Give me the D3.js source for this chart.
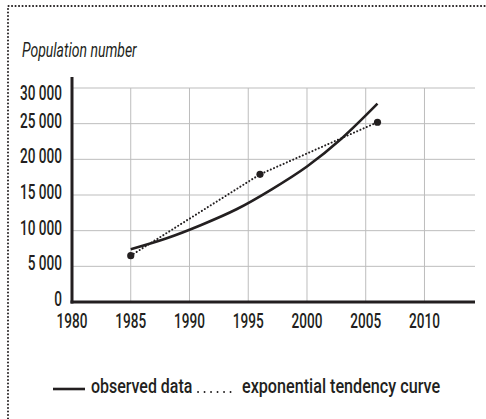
<!DOCTYPE html>
<html>
<head>
<meta charset="utf-8">
<script src="https://cdn.jsdelivr.net/npm/d3@7"></script>
<style>
	body { margin: 0; background: #fff; }
	svg { display: block; }
	text { font-family: Roboto, "Liberation Sans", sans-serif; fill: #231f20; }
</style>
</head>
<body>
<script>
// observed points (dotted line)
const obsYears = [1985, 1996, 2006];
const obsValues = [6500, 17900, 25200];

// smooth tendency curve (solid line)
const curveYears = [1985, 1988, 1991, 1994, 1997, 2000, 2003, 2006];
const curveValues = [7400, 8900, 10800, 13000, 15800, 19000, 23000, 27800];

const xTicks = [1980, 1985, 1990, 1995, 2000, 2005, 2010];
const yTicks = [0, 5000, 10000, 15000, 20000, 25000, 30000];
const yTickLabels = ["0", "5 000", "10 000", "15 000", "20 000", "25 000", "30 000"];

const legendLabels = ["observed data", "exponential tendency curve"];

const width = 486, height = 419;
const mLeft = 72, mRight = 475, mTop = 88, mBottom = 302;

let svg = d3.select("body").append("svg")
	.attr("width", width)
	.attr("height", height);

// dotted frame
svg.append("path")
	.attr("d", "M8," + (height + 10) + "V6H" + (width + 10))
	.attr("fill", "none")
	.attr("stroke", "#231f20")
	.attr("stroke-width", 2)
	.attr("stroke-linecap", "round")
	.attr("stroke-dasharray", "0.1 3.4");

let x = d3.scaleLinear().domain([1980, 2014.3]).range([mLeft, mRight]);
let y = d3.scaleLinear().domain([0, 30000]).range([mBottom, mTop]);

// condensed text: squeeze a normal face horizontally
function label(g, tx, ty, str, anchor, size, opts) {
	opts = opts || {};
	g.append("text")
		.attr("transform", "translate(" + tx + "," + ty + ") scale(" + (opts.sx || 0.68) + ",1)")
		.attr("text-anchor", anchor)
		.attr("font-size", size)
		.attr("font-weight", opts.weight || 500)
		.attr("font-style", opts.italic ? "italic" : "normal")
		.text(str);
}

// grid
svg.append("g").selectAll("line")
	.data(yTicks.slice(1))
	.enter().append("line")
	.attr("x1", mLeft).attr("x2", mRight)
	.attr("y1", d => y(d)).attr("y2", d => y(d))
	.attr("stroke", "#bdbdbd").attr("stroke-width", 1);

svg.append("g").selectAll("line")
	.data(xTicks.slice(1))
	.enter().append("line")
	.attr("x1", d => x(d)).attr("x2", d => x(d))
	.attr("y1", mTop).attr("y2", mBottom)
	.attr("stroke", "#bdbdbd").attr("stroke-width", 1);

// axes lines
svg.append("line")
	.attr("x1", mLeft).attr("x2", mLeft)
	.attr("y1", 77).attr("y2", mBottom + 1.5)
	.attr("stroke", "#231f20").attr("stroke-width", 3);
svg.append("line")
	.attr("x1", mLeft - 1.5).attr("x2", mRight)
	.attr("y1", mBottom).attr("y2", mBottom)
	.attr("stroke", "#231f20").attr("stroke-width", 3);

// tick labels
let tl = svg.append("g");
yTicks.forEach((t, i) => {
	let off = i == yTicks.length - 1 ? 12 : 4;
	label(tl, 62, y(t) + off, yTickLabels[i], "end", 20);
});
xTicks.forEach(t => label(tl, x(t), 328, String(t), "middle", 20));

// title
label(svg, 22, 57, "Population number", "start", 20, { italic: true, weight: 400, sx: 0.7 });

// solid curve
let line = d3.line()
	.x(d => x(d[0]))
	.y(d => y(d[1]))
	.curve(d3.curveMonotoneX);

svg.append("path")
	.datum(curveYears.map((d, i) => [d, curveValues[i]]))
	.attr("d", line)
	.attr("fill", "none")
	.attr("stroke", "#231f20")
	.attr("stroke-width", 2.6);

// dotted line through observed points
let pts = obsYears.map((d, i) => [d, obsValues[i]]);
svg.append("path")
	.datum(pts)
	.attr("d", d3.line().x(d => x(d[0])).y(d => y(d[1])))
	.attr("fill", "none")
	.attr("stroke", "#231f20")
	.attr("stroke-width", 2)
	.attr("stroke-linecap", "round")
	.attr("stroke-dasharray", "0.1 3.4");

svg.append("g").selectAll("circle")
	.data(pts)
	.enter().append("circle")
	.attr("cx", d => x(d[0]))
	.attr("cy", d => y(d[1]))
	.attr("r", 3.6)
	.attr("fill", "#231f20");

// legend
let lg = svg.append("g");
lg.append("line")
	.attr("x1", 53).attr("x2", 85)
	.attr("y1", 389).attr("y2", 389)
	.attr("stroke", "#231f20").attr("stroke-width", 2.6);
label(lg, 91, 393, legendLabels[0], "start", 21, { sx: 0.76 });
lg.append("line")
	.attr("x1", 198).attr("x2", 237)
	.attr("y1", 392).attr("y2", 392)
	.attr("stroke", "#231f20").attr("stroke-width", 1.8)
	.attr("stroke-linecap", "round")
	.attr("stroke-dasharray", "0.1 6.4");
label(lg, 242, 393, legendLabels[1], "start", 21, { sx: 0.77 });
</script>
</body>
</html>
